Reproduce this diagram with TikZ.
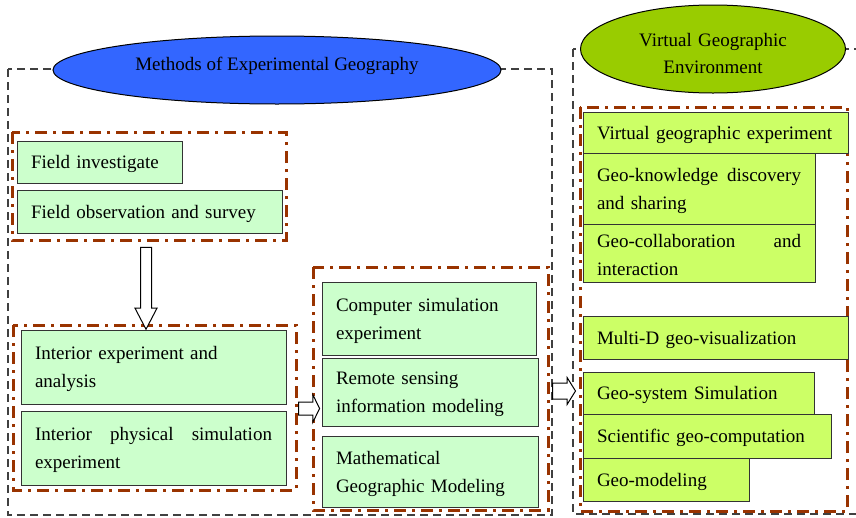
\documentclass[tikz,border=0pt]{standalone}
\usepackage{fontspec}
\setmainfont{Liberation Serif}
\usetikzlibrary{shapes.geometric,shapes.arrows,positioning}
\definecolor{brownline}{RGB}{153,51,0}
\definecolor{methodblue}{RGB}{51,102,255}
\definecolor{vgeolive}{RGB}{153,204,0}
\definecolor{palegreen}{RGB}{204,255,204}
\definecolor{limegreen}{RGB}{204,255,102}
\tikzstyle{outer} = [dash pattern=on 8pt off 5pt, line width=1.2pt, draw=black!75]
\tikzstyle{group} = [dash pattern=on 12pt off 6pt on 3pt off 6pt, line width=3pt, draw=brownline]
\tikzstyle{title} = [ellipse, draw=black, line width=1pt, inner sep=0, align=center]
\tikzstyle{method} = [rectangle, draw=black!80, line width=1pt, fill=palegreen, anchor=north west, inner xsep=14pt, inner ysep=0, outer sep=0, align=left, text height=17.5pt]
\tikzstyle{vgebox} = [method, fill=limegreen]
\tikzstyle{hollow} = [single arrow, draw=black, line width=1pt, fill=white, inner xsep=0, single arrow head indent=0]
\newcommand{\spreadline}[2]{\makebox[#1][s]{\spaceskip=0pt\relax #2}}

\begin{document}
\begin{tikzpicture}[x=1pt, y=-1pt, font=\fontsize{19}{28}\selectfont]
    \clip (0,0) rectangle (856,517);

    % dashed frames
    \draw [outer] (8,69) rectangle (552,515);
    \draw [outer] (573,49) rectangle (870,514);

    \node (methods) [title, fill=methodblue, minimum width=448, minimum height=68, text height=14pt, text depth=14pt] at (277,70) {Methods of Experimental Geography};
    \node (environment) [title, fill=vgeolive, minimum width=265, minimum height=88, text width=160, text height=26pt, text depth=32pt] at (713,49) {Virtual Geographic\\[-1pt]Environment};

    % groups
    \draw [group] (12,132) rectangle (286,240);
    \draw [group] (13,325) rectangle (296,490);
    \draw [group] (313,267) rectangle (548,510);
    \draw [group] (580,107) rectangle (847,511);

    % field work
    \node (fieldinv) [method, text width=137, minimum height=42] at (17,141) {Field investigate};
    \node (fieldobs) [method, text width=237, minimum height=43] at (17,190) {Field observation and survey};

    % interior work
    \node (interexp) [method, text width=237, minimum height=74] at (21,330) {Interior experiment and\\analysis};
    \node (interphy) [method, text width=237, minimum height=74] at (21,411) {\spreadline{237pt}{Interior physical simulation}\\experiment};

    % simulation and modeling
    \node (compsim) [method, text width=186, minimum height=73] at (322,282) {Computer simulation\\experiment};
    \node (remote) [method, text width=188, minimum height=68] at (322,358) {Remote sensing\\information modeling};
    \node (mathgeo) [method, text width=188, minimum height=71] at (322,436) {Mathematical\\Geographic Modeling};

    % virtual geographic environment
    \node (vgexp) [vgebox, text width=237, minimum height=41] at (583,112) {Virtual geographic experiment};
    \node (knowledge) [vgebox, text width=204, minimum height=71] at (583,153) {\spreadline{204pt}{Geo-knowledge discovery}\\and sharing};
    \node (collab) [vgebox, text width=204, minimum height=58] at (583,224) {\spreadline{204pt}{Geo-collaboration and}\\interaction};
    \node (multid) [vgebox, text width=237, minimum height=43] at (583,316) {Multi-D geo-visualization};
    \node (geosys) [vgebox, text width=203, minimum height=42] at (583,372) {Geo-system Simulation};
    \node (scicomp) [vgebox, text width=220, minimum height=44] at (583,414) {Scientific geo-computation};
    \node (geomod) [vgebox, text width=138, minimum height=43] at (583,458) {Geo-modeling};

    % block arrows
    \node (down) [hollow, rotate=-90, minimum height=82, inner ysep=5, single arrow head extend=5.5, single arrow tip angle=55] at (146,283) {};
    \node (toright) [hollow, minimum height=21, inner ysep=6, single arrow head extend=7.5, single arrow tip angle=128] at (307.5,408.5) {};
    \node (tovge) [hollow, minimum height=23, inner ysep=7.5, single arrow head extend=5.5, single arrow tip angle=116] at (561.5,391) {};
\end{tikzpicture}
\end{document}
